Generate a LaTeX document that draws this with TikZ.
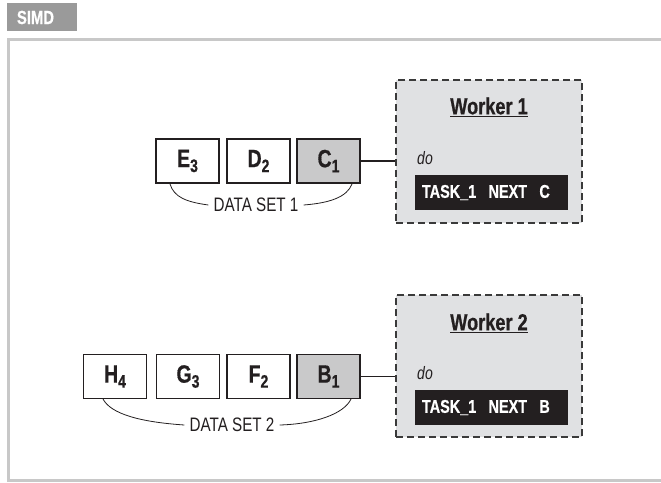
\documentclass[tikz,border=0pt]{standalone}
\usepackage{fontspec}
\setmainfont{Liberation Sans}[FakeStretch=0.78, BoldFeatures={FakeBold=0.6}]
\definecolor{ink}{HTML}{231F20}
\definecolor{framegray}{HTML}{C8C8C8}
\definecolor{tabgray}{HTML}{9A9A9A}
\definecolor{cellgray}{HTML}{C9C9CA}
\definecolor{workerfill}{HTML}{E0E1E3}
\definecolor{dashgray}{HTML}{3A3A3A}
\newcommand\sbs[1]{\raisebox{-5pt}{\fontsize{18}{18}\selectfont #1}}
\tikzset{
  cell/.style={draw=ink, line width=1.2pt, minimum width=63pt, minimum height=44pt, inner sep=0pt,
    font=\fontsize{25}{25}\selectfont\bfseries, text=ink},
  hotcell/.style={cell, fill=cellgray},
  worker/.style={draw=dashgray, line width=1.3pt, dash pattern=on 7pt off 4pt, fill=workerfill,
    minimum width=186pt, inner sep=0pt},
  wtitle/.style={font=\fontsize{23.3}{23.3}\selectfont\bfseries, text=ink, inner sep=0pt},
  dolabel/.style={font=\fontsize{18}{18}\selectfont\itshape, text=ink, anchor=west, inner sep=0pt},
  taskbox/.style={fill=ink, text=white, font=\fontsize{18.5}{18.5}\selectfont\bfseries,
    minimum width=153pt, minimum height=35pt, text width=139pt, align=left, inner xsep=7pt, inner ysep=0pt},
  link/.style={draw=ink, line width=1.5pt},
  brace/.style={draw=ink, line width=0.8pt},
  setlabel/.style={font=\fontsize{19.5}{19.5}\selectfont, text=ink, inner xsep=5pt, inner ysep=2pt},
}
\begin{document}
\begin{tikzpicture}[x=1pt,y=-1pt]
\useasboundingbox (0,0) rectangle (661,482);
% frame and tab
\fill[tabgray] (7,3) rectangle (77,31);
\node[text=white, font=\fontsize{19}{19}\selectfont\bfseries, inner sep=0pt] (tab) at (35.5,17.5) {SIMD};
\draw[framegray, line width=2.6pt] (661,39.5) -- (8.7,39.5) -- (8.7,480.7) -- (661,480.7);

% ---------- data set 1 ----------
\node[cell] (e3) at (187.5,161) {E\sbs{3}};
\node[cell] (d2) at (258.5,161) {D\sbs{2}};
\node[hotcell] (c1) at (328.5,161) {C\sbs{1}};
\node[worker, minimum height=143pt] (w1) at (489,151.5) {};
\node[wtitle] (w1t) at (489,107) {\underline{Worker 1}};
\node[dolabel] (do1) at (417,158) {do};
\node[taskbox] (t1) at (491.5,192.5) {TASK\_1\ \ NEXT\ \ C};
\draw[link] (c1.east) -- (c1.east -| w1.west);
\node[setlabel] (ds1) at (256,205) {DATA SET 1};
\coordinate (ds1a) at (170,184);
\coordinate (ds1b) at (352,184);
\draw[brace] (ds1a) .. controls (174,197) and (186,202) .. (ds1.west);
\draw[brace] (ds1.east) .. controls (330,203) and (347,197) .. (ds1b);

% ---------- data set 2 ----------
\node[cell] (h4) at (115,376.5) {H\sbs{4}};
\node[cell] (g3) at (188,376.5) {G\sbs{3}};
\node[cell] (f2) at (258.5,376.5) {F\sbs{2}};
\node[hotcell] (b1) at (328.5,376.5) {B\sbs{1}};
\node[worker, minimum height=142pt] (w2) at (489,366) {};
\node[wtitle] (w2t) at (489,323) {\underline{Worker 2}};
\node[dolabel] (do2) at (417,373) {do};
\node[taskbox] (t2) at (491.5,407.5) {TASK\_1\ \ NEXT\ \ B};
\draw[link] (b1.east) -- (b1.east -| w2.west);
\node[setlabel] (ds2) at (232,425) {DATA SET 2};
\coordinate (ds2a) at (103,399);
\coordinate (ds2b) at (351,399);
\draw[brace] (ds2a) .. controls (111,414) and (140,422) .. (ds2.west);
\draw[brace] (ds2.east) .. controls (315,424) and (344,414) .. (ds2b);
\end{tikzpicture}
\end{document}
